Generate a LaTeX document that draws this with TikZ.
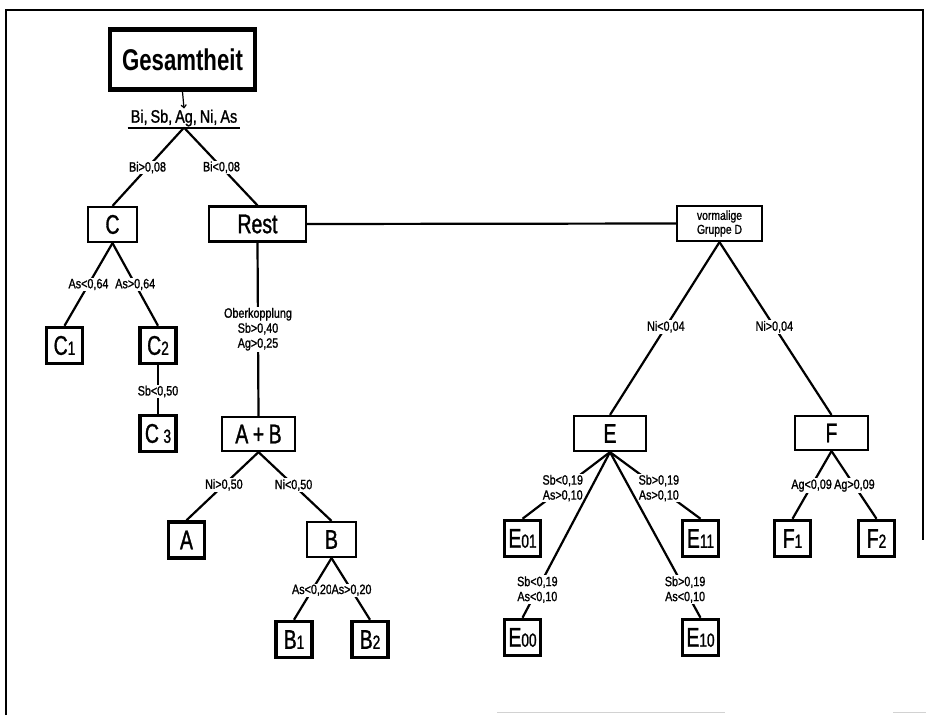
\documentclass[tikz,border=0pt]{standalone}
\usepackage{fontspec}
\setmainfont{Liberation Sans}[FakeStretch=0.78]
\newfontfamily\labf{Liberation Sans}[FakeStretch=0.8, FakeBold=1.2]
\newfontfamily\boxf{Liberation Sans}[FakeStretch=0.72, FakeBold=1.2]
\newfontfamily\rootf{Liberation Sans Bold}[FakeStretch=0.74]
\usetikzlibrary{arrows.meta}
\newcommand\dg[1]{{\fontsize{19}{19}\selectfont #1}}
\begin{document}
\begin{tikzpicture}[x=1pt,y=-1pt,
 box/.style={draw, line width=2.2pt, inner sep=0pt, minimum height=35pt, font=\boxf\fontsize{27}{27}\selectfont},
 leaf/.style={draw, line width=3.5pt, inner sep=0pt, minimum width=36pt, minimum height=36pt, font=\boxf\fontsize{27}{27}\selectfont},
 conn/.style={line width=2.2pt},
 lab/.style={fill=white, inner sep=1pt, font=\labf\fontsize{13.5}{15}\selectfont, align=center}]
\useasboundingbox (0,0) rectangle (926,715);
% frame
\draw[line width=2pt] (6,715) -- (6,10) -- (923,10) -- (923,540);
\draw[gray!35, line width=1pt] (497,712) -- (725,712) (893,712) -- (926,712);

% root
\node[draw, line width=4.5pt, inner sep=0pt, minimum width=145pt, minimum height=60pt,
  font=\rootf\fontsize{30}{30}\selectfont] (G) at (182.5,59.5) {Gesamtheit};
\node[inner sep=1pt, font=\labf\fontsize{18}{18}\selectfont] (bi) at (184,118) {Bi,\,Sb,\,Ag,\,Ni,\,As};
\draw[line width=1.2pt, -{To[length=4pt,width=6pt]}] (G.south) -- (bi.north);
\draw[line width=2pt] ([xshift=-2pt]bi.south west) -- ([xshift=2pt]bi.south east);

% level 1
\node[box, minimum width=49pt] (C) at (112.5,224.5) {C};
\node[box, minimum width=97pt] (R) at (257.5,224) {Rest};
\node[box, minimum width=85pt, font=\labf\fontsize{13}{14}\selectfont, align=center] (D) at (719.5,223.5) {vormalige\\Gruppe D};

% C branch
\node[leaf] (C1) at (64.5,345.5) {C\dg{1}};
\node[leaf] (C2) at (158,345.5) {C\dg{2}};
\node[leaf] (C3) at (158,433.5) {C\,\dg{3}};

% A+B branch
\node[box, minimum width=73pt, minimum height=34pt] (AB) at (258.5,434) {A\,+\,B};
\node[leaf] (A) at (186.5,540) {A};
\node[box, minimum width=49pt] (B) at (331.5,539.5) {B};
\node[leaf] (B1) at (294,639.5) {B\dg{1}};
\node[leaf] (B2) at (370,639.5) {B\dg{2}};

% D branch
\node[box, minimum width=72pt] (E) at (610,433.5) {E};
\node[box, minimum width=73pt, minimum height=34pt] (F) at (831.5,433) {F};
\node[leaf] (E01) at (522.5,538.5) {E\dg{01}};
\node[leaf] (E11) at (700.5,538.5) {E\dg{11}};
\node[leaf] (E00) at (522.5,637.5) {E\dg{00}};
\node[leaf] (E10) at (700.5,637.5) {E\dg{10}};
\node[leaf] (F1) at (792.5,538.5) {F\dg{1}};
\node[leaf] (F2) at (876.5,538.5) {F\dg{2}};

% connectors
\draw[conn] (bi.south) -- node[lab, pos=0.51] {Bi>0,08} (C.north);
\draw[conn] (bi.south) -- node[lab, pos=0.51] {Bi<0,08} (R.north);
\draw[conn] (R.east) -- (D.west);

\draw[conn] (C.south) -- node[lab, pos=0.5] {As<0,64} (C1.north);
\draw[conn] (C.south) -- node[lab, pos=0.5] {As>0,64} (C2.north);
\draw[conn] (C2.south) -- node[lab, pos=0.54] {Sb<0,50} (C3.north);

\draw[conn] (R.south) -- node[lab, pos=0.5] {Oberkopplung\\Sb>0,40\\Ag>0,25} (AB.north);
\draw[conn] (AB.south) -- node[lab, pos=0.48] {Ni>0,50} (A.north);
\draw[conn] (AB.south) -- node[lab, pos=0.48] {Ni<0,50} (B.north);
\draw[conn] (B.south) -- node[lab, pos=0.52] {As<0,20} (B1.north);
\draw[conn] (B.south) -- node[lab, pos=0.52] {As>0,20} (B2.north);

\draw[conn] (D.south) -- node[lab, pos=0.49] {Ni<0,04} (E.north);
\draw[conn] (D.south) -- node[lab, pos=0.49] {Ni>0,04} (F.north);

\draw[conn] (E.south) -- node[lab, pos=0.54] {Sb<0,19\\As>0,10} (E01.north);
\draw[conn] (E.south) -- node[lab, pos=0.54] {Sb>0,19\\As>0,10} (E11.north);
\draw[conn] (E.south) -- node[lab, pos=0.83] {Sb<0,19\\As<0,10} (E00.north);
\draw[conn] (E.south) -- node[lab, pos=0.83] {Sb>0,19\\As<0,10} (E10.north);

\draw[conn] (F.south) -- node[lab, pos=0.51] {Ag<0,09} (F1.north);
\draw[conn] (F.south) -- node[lab, pos=0.51] {Ag>0,09} (F2.north);
\end{tikzpicture}
\end{document}
